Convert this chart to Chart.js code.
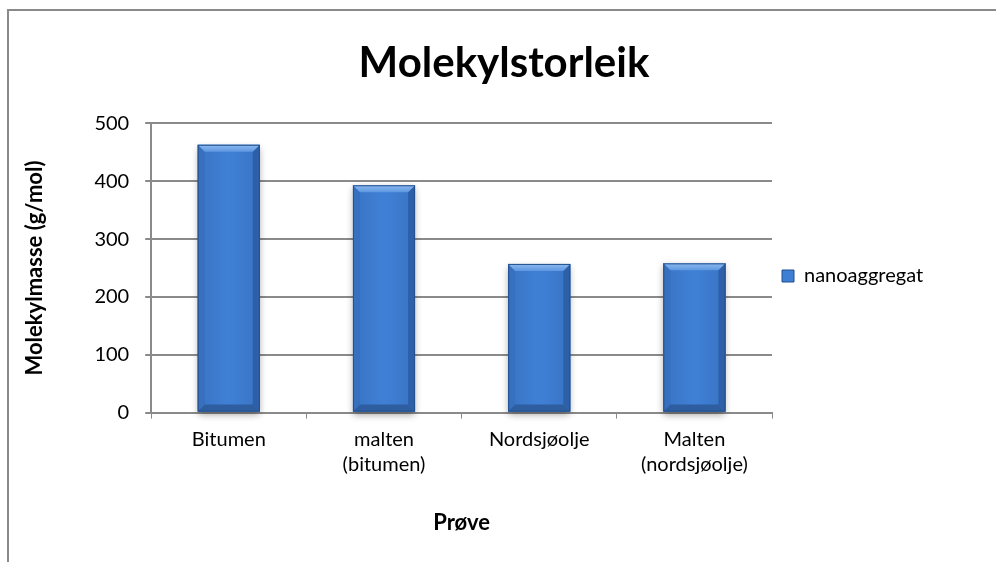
<!DOCTYPE html>
<html>
<head>
<meta charset="utf-8">
<script src="https://cdn.jsdelivr.net/npm/chart.js@4/dist/chart.umd.min.js"></script>
<style>
  html, body { margin: 0; padding: 0; background: #fff; }
  #frame {
    position: absolute; left: 7px; top: 9px; right: -4px; bottom: -4px;
    border-left: 2px solid #8a8a8a; border-top: 2px solid #8a8a8a;
  }
  #wrap { position: absolute; left: 0; top: 0; width: 996px; height: 562px; }
</style>
</head>
<body>
<div id="frame"></div>
<div id="wrap"><canvas id="chart"></canvas></div>
<script>
/* ---------- DATA ---------- */
const categories = ['Bitumen', ['malten', '(bitumen)'], 'Nordsjøolje', ['Malten', '(nordsjøolje)']];
const seriesName = 'nanoaggregat';
const values = [463, 393, 257, 258];
const yTicks = [0, 100, 200, 300, 400, 500];

const FONT = 'Lato, "DejaVu Sans", sans-serif';
const GRID = '#8a8a8a';
const LEGEND_WIDTH = 214;

/* ---------- BEVELLED BARS ---------- */
// paints each bar as an office-style bevelled block, on top of the plain fill
const bevelBars = {
  id: 'bevelBars',
  beforeInit(chart) {
    // widen the legend box so it sits right next to the plot
    const lg = chart.legend;
    if (lg) {
      const fit = lg.fit;
      lg.fit = function () { fit.call(this); this.width = Math.max(this.width, LEGEND_WIDTH); };
    }
  },
  beforeDatasetsDraw(chart) {
    const ctx = chart.ctx;
    chart.getDatasetMeta(0).data.forEach(el => {
      const { x, y, base, width } = el.getProps(['x', 'y', 'base', 'width'], true);
      ctx.save();
      ctx.shadowColor = 'rgba(0,0,0,0.35)';
      ctx.shadowBlur = 7;
      ctx.shadowOffsetY = 3;
      ctx.fillStyle = '#2f64ad';
      ctx.fillRect(x - width / 2, y, width, base - y);
      ctx.restore();
    });
  },
  afterDatasetsDraw(chart) {
    const ctx = chart.ctx;
    chart.getDatasetMeta(0).data.forEach(el => {
      const { x, y, base, width } = el.getProps(['x', 'y', 'base', 'width'], true);
      const l = x - width / 2, r = x + width / 2, b = 7;
      ctx.save();
      // face
      const face = ctx.createLinearGradient(l, 0, r, 0);
      face.addColorStop(0, '#3a74c4');
      face.addColorStop(0.5, '#3f80d6');
      face.addColorStop(1, '#3a74c4');
      ctx.fillStyle = face;
      ctx.fillRect(l, y, width, base - y);
      // left bevel
      ctx.fillStyle = '#3670bf';
      ctx.beginPath();
      ctx.moveTo(l, y); ctx.lineTo(l + b, y + b); ctx.lineTo(l + b, base - b); ctx.lineTo(l, base);
      ctx.closePath(); ctx.fill();
      // right bevel
      ctx.fillStyle = '#2d60a8';
      ctx.beginPath();
      ctx.moveTo(r, y); ctx.lineTo(r - b, y + b); ctx.lineTo(r - b, base - b); ctx.lineTo(r, base);
      ctx.closePath(); ctx.fill();
      // bottom bevel
      ctx.fillStyle = '#2e5e9f';
      ctx.beginPath();
      ctx.moveTo(l, base); ctx.lineTo(r, base); ctx.lineTo(r - b, base - b); ctx.lineTo(l + b, base - b);
      ctx.closePath(); ctx.fill();
      // top bevel
      const top = ctx.createLinearGradient(0, y, 0, y + b);
      top.addColorStop(0, '#8dbaf0');
      top.addColorStop(1, '#5d97e0');
      ctx.fillStyle = top;
      ctx.beginPath();
      ctx.moveTo(l, y); ctx.lineTo(r, y); ctx.lineTo(r - b, y + b); ctx.lineTo(l + b, y + b);
      ctx.closePath(); ctx.fill();
      // outline
      ctx.strokeStyle = '#24518e';
      ctx.lineWidth = 1;
      ctx.strokeRect(l + 0.5, y + 0.5, width - 1, base - y - 1);
      ctx.restore();
    });
  }
};

/* ---------- CHART ---------- */
const data = {
  labels: categories,
  datasets: [{
    label: seriesName,
    data: values,
    backgroundColor: '#3f7fd3',
    borderColor: '#24518e',
    borderWidth: 1,
    categoryPercentage: 1,
    barPercentage: 0.4
  }]
};

const config = {
  type: 'bar',
  data: data,
  options: {
    responsive: true,
    maintainAspectRatio: false,
    animation: false,
    layout: { padding: { left: 22, top: 12, right: 10, bottom: 22 } },
    plugins: {
      title: {
        display: true,
        text: 'Molekylstorleik',
        color: '#000',
        font: { family: FONT, size: 42, weight: 'bold' },
        padding: { top: 26, bottom: 35 }
      },
      legend: {
        position: 'right',
        labels: {
          color: '#000',
          font: { family: FONT, size: 20 },
          boxWidth: 12,
          boxHeight: 12,
          padding: 10
        }
      },
      tooltip: { enabled: false }
    },
    scales: {
      x: {
        grid: { display: true, drawOnChartArea: false, drawTicks: true, tickLength: 6, color: GRID, offset: true },
        border: { color: GRID, width: 2 },
        ticks: { color: '#000', font: { family: FONT, size: 20, lineHeight: 1.25 }, padding: 8, maxRotation: 0 },
        title: {
          display: true, text: 'Prøve', color: '#000',
          font: { family: FONT, size: 22, weight: 'bold' }, padding: { top: 25 }
        }
      },
      y: {
        min: 0,
        max: 500,
        afterBuildTicks: axis => { axis.ticks = yTicks.map(v => ({ value: v })); },
        grid: { color: GRID, lineWidth: 2, tickLength: 6 },
        border: { color: GRID, width: 2 },
        ticks: { color: '#000', font: { family: FONT, size: 20 }, padding: 16 },
        title: {
          display: true, text: 'Molekylmasse (g/mol)', color: '#000',
          font: { family: FONT, size: 22, weight: 'bold' }, padding: { top: 0, bottom: 30 }
        }
      }
    }
  },
  plugins: [bevelBars]
};

new Chart(document.getElementById('chart').getContext('2d'), config);
</script>
</body>
</html>
